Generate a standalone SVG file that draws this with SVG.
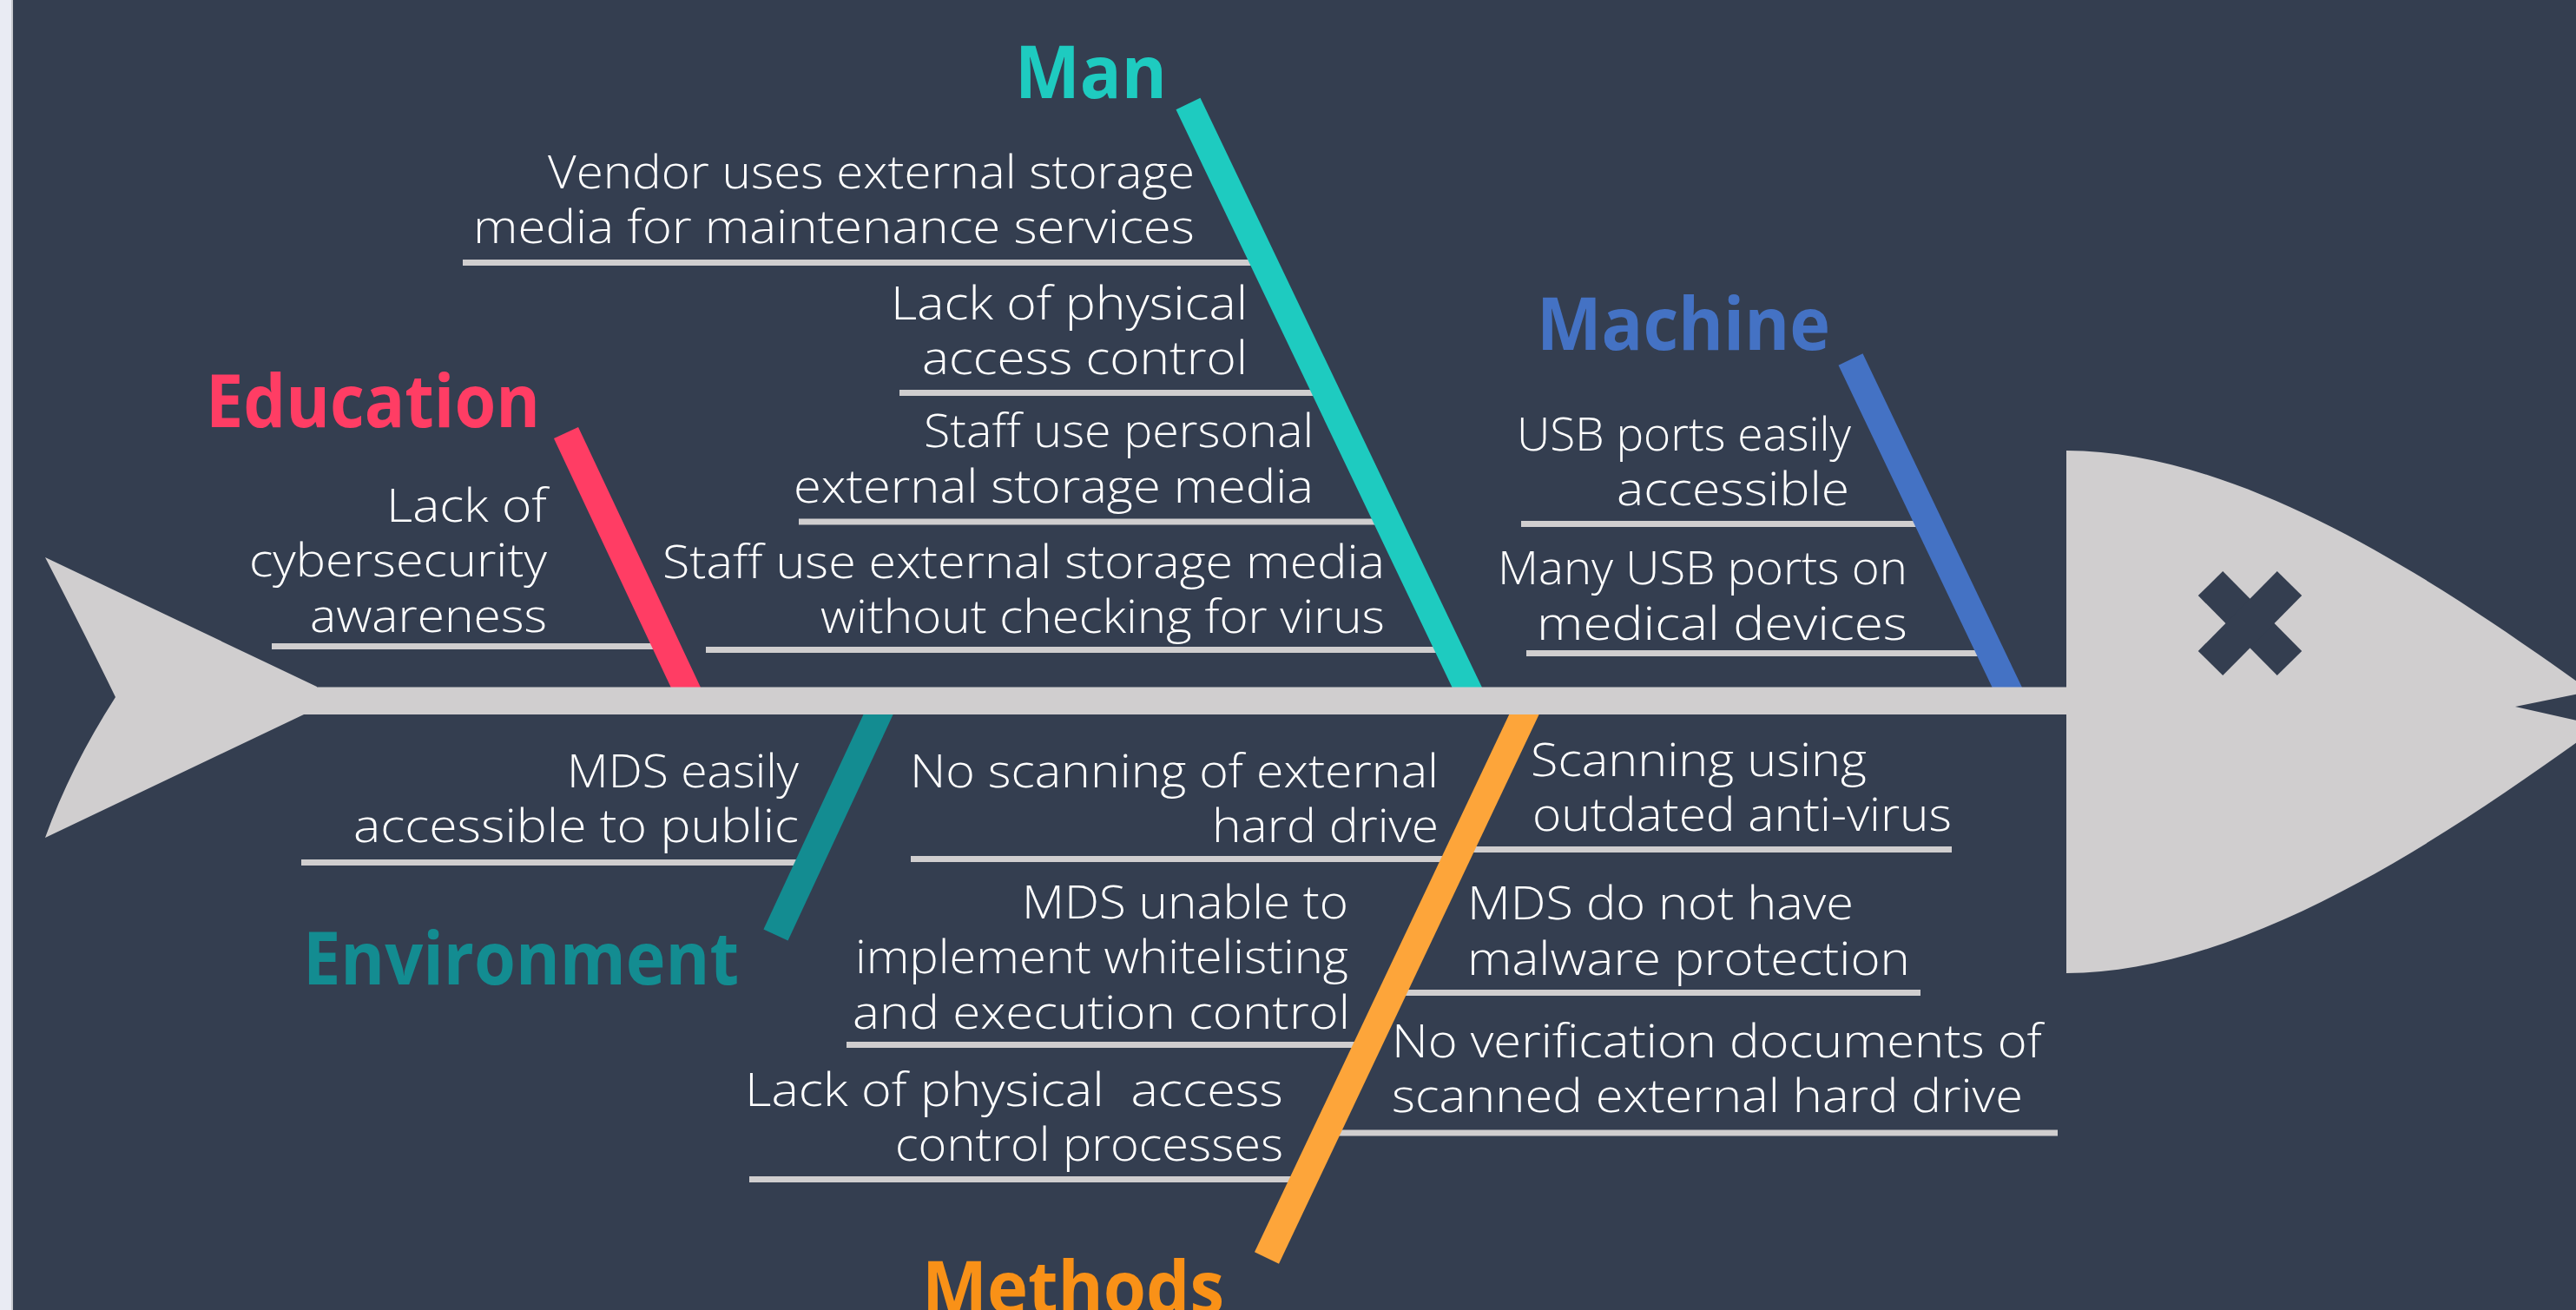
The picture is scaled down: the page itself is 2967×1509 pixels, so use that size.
<svg xmlns="http://www.w3.org/2000/svg" width="2967" height="1509" viewBox="0 0 2967 1509">
<style>
.t{font-family:"Open Sans","Liberation Sans",sans-serif;font-size:54px;fill:#FFFFFF;font-weight:300}
.e{text-anchor:end}
.lab{font-family:"Open Sans","Liberation Sans",sans-serif;font-size:84px;font-weight:700}
.ul{stroke:#D0CECF;stroke-width:7;fill:none}
.bone{stroke-width:31;stroke-linecap:butt;fill:none}
.fish{fill:#D0CECF}
</style>
<rect x="0" y="0" width="2967" height="1509" fill="#343E50"/>
<rect x="0" y="0" width="13" height="1509" fill="#E9EBF3"/>
<rect x="13" y="0" width="2" height="1509" fill="#C6C8CE"/>

<g id="tail">
<path class="fish" d="M52,642 L365,791 L365,823 L350,823 L52,965 Q81,884 133,803 Q95,725 52,642 Z"/>
</g>

<g id="node-man">
<text class="lab" x="1169" y="113" textLength="175" lengthAdjust="spacingAndGlyphs" fill="#1ECBC0">Man</text>
<text class="t e" x="1376" y="217" textLength="745" lengthAdjust="spacingAndGlyphs">Vendor uses external storage</text>
<text class="t e" x="1376" y="280" textLength="831" lengthAdjust="spacingAndGlyphs">media for maintenance services</text>
<line class="ul" x1="533" y1="302.5" x2="1456" y2="302.5"/>
<text class="t e" x="1437" y="368" textLength="411" lengthAdjust="spacingAndGlyphs">Lack of physical</text>
<text class="t e" x="1437" y="431" textLength="375" lengthAdjust="spacingAndGlyphs">access control</text>
<line class="ul" x1="1036" y1="452.5" x2="1528" y2="452.5"/>
<text class="t e" x="1513" y="515" textLength="449" lengthAdjust="spacingAndGlyphs">Staff use personal</text>
<text class="t e" x="1513" y="579" textLength="599" lengthAdjust="spacingAndGlyphs">external storage media</text>
<line class="ul" x1="920" y1="601" x2="1599" y2="601"/>
<text class="t e" x="1595" y="666" textLength="832" lengthAdjust="spacingAndGlyphs">Staff use external storage media</text>
<text class="t e" x="1595" y="729" textLength="650" lengthAdjust="spacingAndGlyphs">without checking for virus</text>
<line class="ul" x1="813" y1="748.5" x2="1669" y2="748.5"/>
</g>

<g id="node-education">
<text class="lab" x="237" y="492" textLength="385" lengthAdjust="spacingAndGlyphs" fill="#FF3D64">Education</text>
<text class="t e" x="630" y="601" textLength="185" lengthAdjust="spacingAndGlyphs">Lack of</text>
<text class="t e" x="630" y="664" textLength="343" lengthAdjust="spacingAndGlyphs">cybersecurity</text>
<text class="t e" x="630" y="728" textLength="273" lengthAdjust="spacingAndGlyphs">awareness</text>
<line class="ul" x1="313" y1="744.5" x2="768" y2="744.5"/>
</g>

<g id="node-machine">
<text class="lab" x="1770" y="403" textLength="338" lengthAdjust="spacingAndGlyphs" fill="#4472C4">Machine</text>
<text class="t e" x="2132" y="519" textLength="385" lengthAdjust="spacingAndGlyphs">USB ports easily</text>
<text class="t e" x="2130" y="582" textLength="268" lengthAdjust="spacingAndGlyphs">accessible</text>
<line class="ul" x1="1752" y1="603.5" x2="2222" y2="603.5"/>
<text class="t e" x="2197" y="673" textLength="472" lengthAdjust="spacingAndGlyphs">Many USB ports on</text>
<text class="t e" x="2197" y="737" textLength="427" lengthAdjust="spacingAndGlyphs">medical devices</text>
<line class="ul" x1="1758" y1="752.5" x2="2293" y2="752.5"/>
</g>

<g id="node-environment">
<text class="lab" x="349" y="1134" textLength="502" lengthAdjust="spacingAndGlyphs" fill="#138C91">Environment</text>
<text class="t e" x="920" y="907" textLength="267" lengthAdjust="spacingAndGlyphs">MDS easily</text>
<text class="t e" x="920" y="970" textLength="513" lengthAdjust="spacingAndGlyphs">accessible to public</text>
<line class="ul" x1="347" y1="993.5" x2="932" y2="993.5"/>
</g>

<g id="node-methods">
<text class="lab" x="1062" y="1513" textLength="348" lengthAdjust="spacingAndGlyphs" fill="#F99117">Methods</text>
<text class="t e" x="1657" y="907" textLength="609" lengthAdjust="spacingAndGlyphs">No scanning of external</text>
<text class="t e" x="1657" y="970" textLength="261" lengthAdjust="spacingAndGlyphs">hard drive</text>
<line class="ul" x1="1049" y1="989.5" x2="1677" y2="989.5"/>
<text class="t e" x="1553" y="1058" textLength="376" lengthAdjust="spacingAndGlyphs">MDS unable to</text>
<text class="t e" x="1553" y="1121" textLength="568" lengthAdjust="spacingAndGlyphs">implement whitelisting</text>
<text class="t e" x="1555" y="1185" textLength="573" lengthAdjust="spacingAndGlyphs">and execution control</text>
<line class="ul" x1="975" y1="1203.5" x2="1575" y2="1203.5"/>
<text class="t e" x="1478" y="1274" textLength="620" lengthAdjust="spacingAndGlyphs" xml:space="preserve">Lack of physical  access</text>
<text class="t e" x="1478" y="1337" textLength="447" lengthAdjust="spacingAndGlyphs">control processes</text>
<line class="ul" x1="863" y1="1358.5" x2="1502" y2="1358.5"/>
<text class="t" x="1763" y="894" textLength="387" lengthAdjust="spacingAndGlyphs">Scanning using</text>
<text class="t" x="1765" y="957" textLength="483" lengthAdjust="spacingAndGlyphs">outdated anti-virus</text>
<line class="ul" x1="1682" y1="978.5" x2="2248" y2="978.5"/>
<text class="t" x="1690" y="1059" textLength="445" lengthAdjust="spacingAndGlyphs">MDS do not have</text>
<text class="t" x="1690" y="1123" textLength="510" lengthAdjust="spacingAndGlyphs">malware protection</text>
<line class="ul" x1="1604" y1="1143.5" x2="2212" y2="1143.5"/>
<text class="t" x="1603" y="1218" textLength="749" lengthAdjust="spacingAndGlyphs">No verification documents of</text>
<text class="t" x="1603" y="1281" textLength="727" lengthAdjust="spacingAndGlyphs">scanned external hard drive</text>
<line class="ul" x1="1527" y1="1305" x2="2370" y2="1305"/>
</g>

<g id="connectors">
<line class="bone" x1="1368.5" y1="119.5" x2="1697" y2="807" stroke="#1ECBC0"/>
<line class="bone" x1="652" y1="498.5" x2="797" y2="807" stroke="#FF3D64"/>
<line class="bone" x1="2131.5" y1="414" x2="2319" y2="807" stroke="#4472C4"/>
<line class="bone" x1="1019" y1="807" x2="893.5" y2="1077" stroke="#138C91"/>
<line class="bone" x1="1763" y1="807" x2="1459" y2="1449" stroke="#FDA53A"/>
</g>

<g id="spine-head">
<rect class="fish" x="355" y="791.5" width="2040" height="31.5"/>
<path class="fish" d="M2380,519 C2600,519 2850,700 3010,815 L3010,825 C2850,940 2600,1121 2380,1121 Z"/>
<polygon points="2897,814 2990,795 2990,835" fill="#343E50"/>
<g stroke="#343E50" stroke-width="40" stroke-linecap="butt">
<line x1="2546" y1="672" x2="2637" y2="764"/>
<line x1="2637" y1="672" x2="2546" y2="764"/>
</g>
</g>
</svg>
